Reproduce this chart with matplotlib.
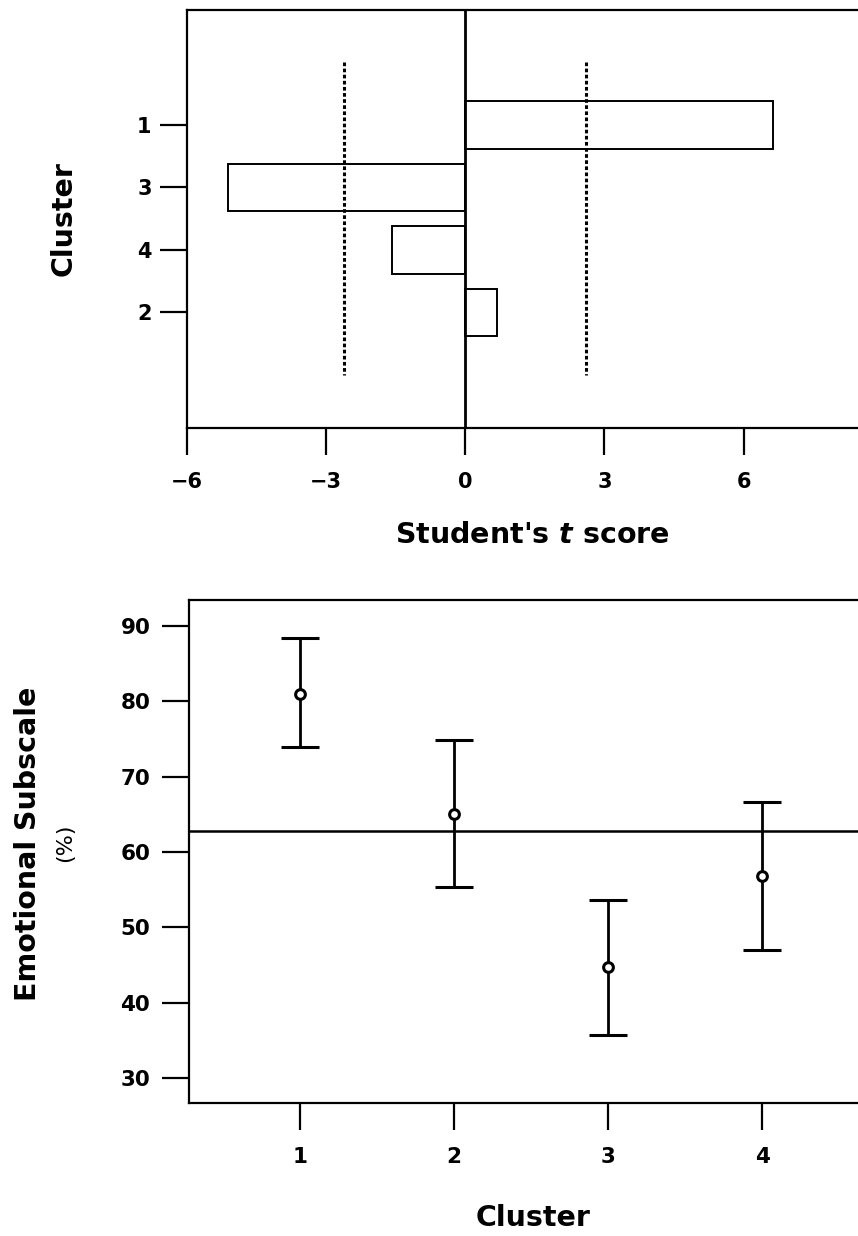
import matplotlib
matplotlib.use("Agg")
import matplotlib.pyplot as plt
import numpy as np

# t-test de cada cluster contra o resto (ordem do eixo, de cima para baixo)
CLUSTER_ORDER = ["1", "3", "4", "2"]
T_SCORE = [6.64, -5.12, -1.58, 0.69]
T_CRIT = 2.61

# subescala emocional por cluster: media e limites do intervalo
EMO_CLUSTER = [1, 2, 3, 4]
EMO_MEAN = [81.0, 65.0, 44.8, 56.8]
EMO_UPPER = [88.4, 74.9, 53.7, 66.6]
EMO_LOWER = [73.9, 55.3, 35.7, 47.0]
EMO_OVERALL = 62.8

plt.rcParams["font.family"] = "DejaVu Sans"
LW = 1.6
TICK = dict(length=19.5, width=LW, direction="out")

fig = plt.figure(figsize=(8.58, 12.36), dpi=100)

# --- painel superior: escore t por cluster ---
ax = fig.add_axes([0.2180, 0.6537, 0.8053, 0.3382])
pos = np.arange(1, len(CLUSTER_ORDER) + 1)
ax.barh(pos, T_SCORE, height=0.76, fill=False, edgecolor="black", lw=1.4)
ax.vlines([-T_CRIT, T_CRIT], 0, 5, colors="black", lw=2.2,
          linestyles=[(0, (1.2, 0.8))])
ax.axvline(0, color="black", lw=2)
ax.set_xlim(-6, 8.9)
ax.set_ylim(5.85, -0.84)
ax.set_xticks([-6, -3, 0, 3, 6])
ax.set_yticks(pos)
ax.set_yticklabels(CLUSTER_ORDER)
ax.tick_params(axis="x", pad=12, labelsize=15, **TICK)
ax.tick_params(axis="y", pad=6, labelsize=15, **TICK)
for lab in ax.get_xticklabels() + ax.get_yticklabels():
    lab.set_fontweight("bold")
ax.set_xlabel("Student's $\\mathbfit{t}$ score", fontsize=20.5, fontweight="bold",
              labelpad=21)
ax.set_ylabel("Cluster", fontsize=20.5, fontweight="bold", labelpad=43)
for s in ax.spines.values():
    s.set_linewidth(LW)

# --- painel inferior: subescala emocional ---
bx = fig.add_axes([0.2197, 0.1076, 0.8036, 0.4070])
mean = np.array(EMO_MEAN)
err = [mean - np.array(EMO_LOWER), np.array(EMO_UPPER) - mean]
bx.axhline(EMO_OVERALL, color="black", lw=1.8)
bx.errorbar(EMO_CLUSTER, mean, yerr=err, fmt="o", color="black", ms=7,
            mfc="white", mec="black", mew=2.2, elinewidth=2, capsize=14,
            capthick=1.5)
bx.set_xlim(0.276, 4.75)
bx.set_ylim(26.7, 93.45)
bx.set_xticks(EMO_CLUSTER)
bx.set_yticks([30, 40, 50, 60, 70, 80, 90])
bx.tick_params(axis="x", pad=12, labelsize=15.5, **TICK)
bx.tick_params(axis="y", pad=8, labelsize=15.5, **TICK)
for lab in bx.get_xticklabels() + bx.get_yticklabels():
    lab.set_fontweight("bold")
bx.set_xlabel("Cluster", fontsize=20.5, fontweight="bold", labelpad=27)
for s in bx.spines.values():
    s.set_linewidth(LW)

# rotulo do eixo y em duas linhas, a segunda menor
fig.text(28 / 858, 1 - 844 / 1236, "Emotional Subscale", rotation=90,
         fontsize=20.5, fontweight="bold", ha="center", va="center")
fig.text(65 / 858, 1 - 843 / 1236, "(%)", rotation=90,
         fontsize=16, ha="center", va="center")

fig.savefig("out.png", dpi=100, facecolor="white")
